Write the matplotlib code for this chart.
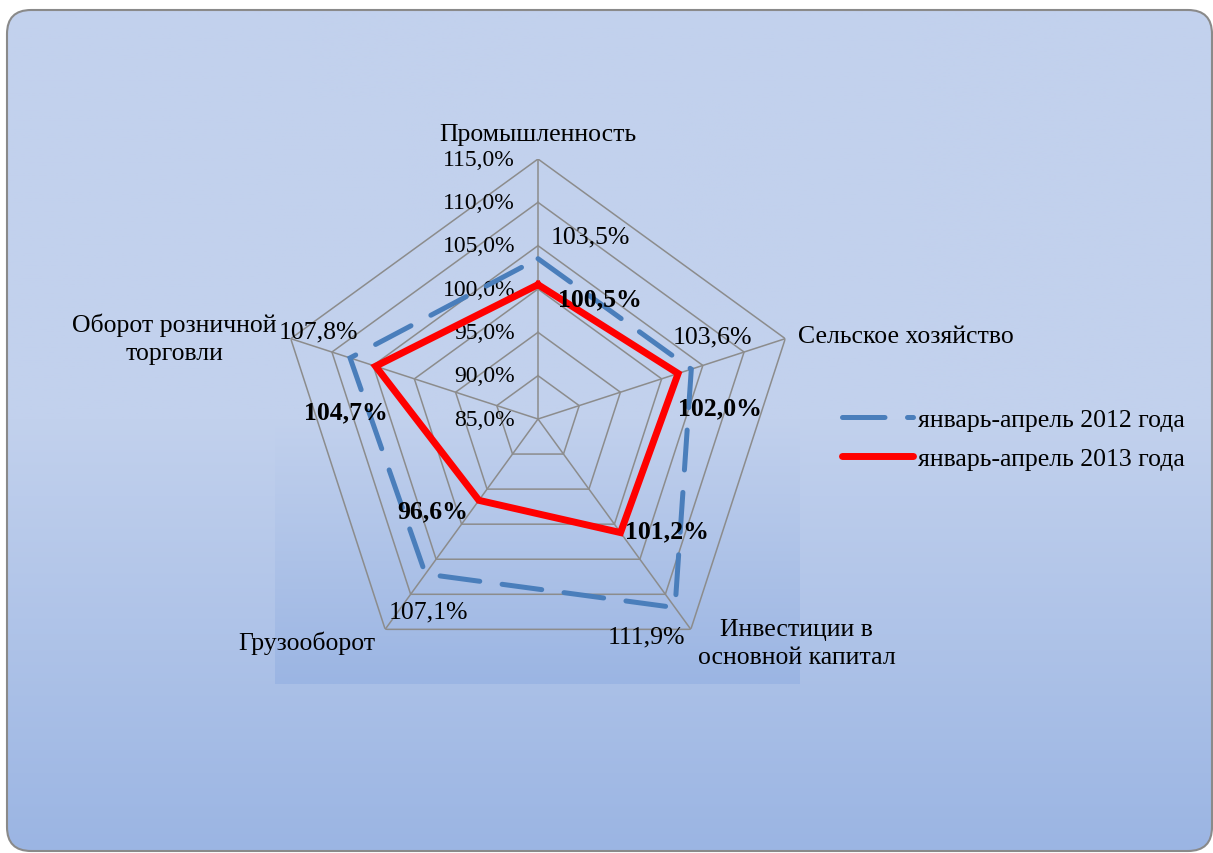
import matplotlib.pyplot as plt
import numpy as np
from matplotlib.patches import FancyBboxPatch, Rectangle
from matplotlib.lines import Line2D

plt.rcParams['font.family'] = ['Liberation Serif', 'DejaVu Serif']

# data
categories = ['Промышленность', 'Сельское хозяйство', 'Инвестиции в\nосновной капитал',
              'Грузооборот', 'Оборот розничной\nторговли']
vals_2012 = [103.5, 103.6, 111.9, 107.1, 107.8]
vals_2013 = [100.5, 102.0, 101.2, 96.6, 104.7]
series_names = ['январь-апрель 2012 года', 'январь-апрель 2013 года']
ring_vals = [85, 90, 95, 100, 105, 110, 115]

# label offsets in pixels (dx, dy up)
off_2012 = [(52, 22), (21, 33), (-29, -29), (3, -37), (-32, 26)]
off_2013 = [(62, -14), (42, -34), (46, 2), (-46, -10), (-30, -46)]
off_cat = [((0, 25), 'center'), ((13, 3), 'left'), ((106, -14), 'center'),
           ((-78, -13), 'center'), ((-116, 0), 'center')]

W, H = 1213, 854
FS = 18.5
fig = plt.figure(figsize=(W / 100, H / 100), dpi=100)
fig.patch.set_facecolor('white')

top_c = np.array([194, 209, 237]) / 255
bot_c = np.array([155, 181, 227]) / 255


def make_grad(y0, y1, flat_until):
    # vertical gradient, flat top colour until flat_until, then linear
    ys = np.linspace(y0, y1, 400)
    f = np.clip((ys - flat_until) / (y1 - flat_until), 0, 1)[:, None, None]
    return (top_c * (1 - f) + bot_c * f) * np.ones((1, 2, 1))


# background with gradient and rounded frame
bg = fig.add_axes([0, 0, 1, 1])
bg.set_xlim(0, W)
bg.set_ylim(H, 0)
bg.axis('off')
frame = FancyBboxPatch((7, 11), 1205, 841, boxstyle='round,pad=0,rounding_size=24',
                       facecolor='none', edgecolor='#8a8a8a', lw=1.5, zorder=3)
bg.add_patch(frame)
im = bg.imshow(make_grad(11, 852, 420), extent=(7, 1212, 852, 11), aspect='auto', zorder=1)
im.set_clip_path(frame)
# plot area gradient
pa = Rectangle((275, 100), 525, 585, transform=bg.transData)
im2 = bg.imshow(make_grad(100, 685, 420), extent=(275, 800, 685, 100), aspect='auto', zorder=2)
im2.set_clip_path(pa)

# radar axes
cx, cy, R = 538, 420, 260
ax = fig.add_axes([(cx - R) / W, (H - cy - R) / H, 2 * R / W, 2 * R / H], polar=True)
ax.patch.set_visible(False)
ax.set_theta_offset(np.pi / 2)
ax.set_theta_direction(-1)
ax.set_ylim(85, 115)
ax.grid(False)
ax.spines['polar'].set_visible(False)
ax.set_xticks([])
ax.set_yticks([])

n = len(categories)
angles = np.arange(n) * 2 * np.pi / n
ang_c = np.append(angles, angles[0])

# polygon grid
for rv in ring_vals[1:]:
    ax.plot(ang_c, [rv] * (n + 1), color='#8c8c8c', lw=1.1, zorder=1)
for a in angles:
    ax.plot([a, a], [85, 115], color='#8c8c8c', lw=1.1, zorder=1)

# tick labels
for rv in ring_vals:
    ax.annotate(f'{rv:.1f}%'.replace('.', ','), (0, rv), xytext=(-23, 0),
                textcoords='offset pixels', ha='right', va='center', fontsize=17)

# series
ax.plot(ang_c, vals_2012 + vals_2012[:1], color='#4a7ebb', lw=3.6,
        linestyle=(0, (8, 4.5)), dash_capstyle='round', dash_joinstyle='miter', zorder=3)
ax.plot(ang_c, vals_2013 + vals_2013[:1], color='#ff0000', lw=5,
        solid_joinstyle='miter', zorder=4)

# data labels
for a, v, o in zip(angles, vals_2012, off_2012):
    ax.annotate(f'{v:.1f}%'.replace('.', ','), (a, v), xytext=o, textcoords='offset pixels',
                ha='center', va='center', fontsize=FS, zorder=5)
for a, v, o in zip(angles, vals_2013, off_2013):
    ax.annotate(f'{v:.1f}%'.replace('.', ','), (a, v), xytext=o, textcoords='offset pixels',
                ha='center', va='center', fontsize=FS, fontweight='bold', zorder=5)

# category labels
for a, c, (o, ha) in zip(angles, categories, off_cat):
    ax.annotate(c, (a, 115), xytext=o, textcoords='offset pixels', ha=ha, va='center',
                fontsize=FS, multialignment='center', linespacing=1.35)

# legend
handles = [Line2D([], [], color='#4a7ebb', lw=3.6, linestyle=(0, (8.5, 4.5)),
                  dash_capstyle='round'),
           Line2D([], [], color='#ff0000', lw=5, solid_capstyle='round')]
fig.legend(handles, series_names, loc='center left', bbox_to_anchor=(842 / W, 1 - 440 / H),
           bbox_transform=fig.transFigure, frameon=False, fontsize=FS, handlelength=2.75,
           handletextpad=0.2, labelspacing=0.6, borderpad=0, borderaxespad=0)

fig.savefig('out.png', dpi=100)
